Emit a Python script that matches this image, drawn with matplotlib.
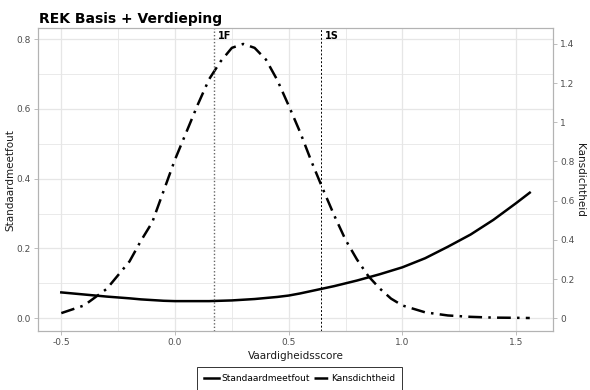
import matplotlib
matplotlib.use("Agg")
import matplotlib.pyplot as plt
import numpy as np

# vaardigheidsscore grid
theta = [-0.5, -0.4, -0.3, -0.2, -0.15, -0.1, -0.05, 0.0, 0.05, 0.1, 0.15, 0.2, 0.25,
         0.3, 0.35, 0.4, 0.45, 0.5, 0.55, 0.6, 0.65, 0.7, 0.75, 0.8, 0.85, 0.9, 0.95,
         1.0, 1.1, 1.2, 1.3, 1.4, 1.5, 1.56]
# standaardmeetfout (left axis)
sem = [0.074, 0.068, 0.062, 0.057, 0.054, 0.052, 0.050, 0.049, 0.049, 0.049, 0.049, 0.050, 0.051,
       0.053, 0.055, 0.058, 0.061, 0.065, 0.071, 0.078, 0.085, 0.092, 0.100, 0.108, 0.117, 0.126, 0.136,
       0.146, 0.172, 0.205, 0.240, 0.282, 0.330, 0.360]
# kansdichtheid (right axis)
dens = [0.026, 0.065, 0.150, 0.290, 0.395, 0.490, 0.650, 0.810, 0.950, 1.090, 1.220, 1.310, 1.380,
        1.400, 1.380, 1.320, 1.215, 1.085, 0.950, 0.800, 0.660, 0.525, 0.400, 0.300, 0.215, 0.152, 0.100,
        0.065, 0.030, 0.014, 0.007, 0.003, 0.002, 0.001]

cut_labels = ["1F", "1S"]
cut_values = [0.17, 0.64]

scale = 1.78  # factor between density and sem axis

fig = plt.figure(figsize=(5.9, 3.9), dpi=100)
ax = fig.add_axes([0.0644, 0.151, 0.873, 0.777])

ax.set_xlim(-0.6025, 1.6625)
ax.set_ylim(-0.037, 0.832)

grid_col = "#e6e6e6"
for v in [-0.5, 0, 0.5, 1.0, 1.5]:
    ax.axvline(v, color=grid_col, lw=0.9, zorder=0)
for v in [-0.25, 0.25, 0.75, 1.25]:
    ax.axvline(v, color=grid_col, lw=0.6, zorder=0)
for v in [0, 0.2, 0.4, 0.6, 0.8]:
    ax.axhline(v, color=grid_col, lw=0.9, zorder=0)
for v in [0.1, 0.3, 0.5, 0.7]:
    ax.axhline(v, color=grid_col, lw=0.6, zorder=0)

l1, = ax.plot(theta, sem, color="black", lw=1.8, label="Standaardmeetfout")
l2, = ax.plot(theta, np.array(dens) / scale, color="black", lw=1.8,
              linestyle=(0, (5.5, 2.5, 1, 2.5)), label="Kansdichtheid")

ax.axvline(cut_values[0], color="#666666", lw=1.0, linestyle=(0, (1, 1.5)))
ax.axvline(cut_values[1], color="black", lw=0.7, linestyle=(0, (2, 2)))
for lab, v in zip(cut_labels, cut_values):
    ax.text(v + 0.02, 0.825, lab, fontsize=7, fontweight="bold", va="top", ha="left")

ax.set_xticks([-0.5, 0, 0.5, 1.0, 1.5])
ax.set_xticklabels(["-0.5", "0.0", "0.5", "1.0", "1.5"])
ax.set_yticks([0, 0.2, 0.4, 0.6, 0.8])
ax.set_yticklabels(["0.0", "0.2", "0.4", "0.6", "0.8"])

ax2 = ax.twinx()
ax2.set_ylim(-0.037 * scale, 0.832 * scale)
ax2.set_yticks([0, 0.2, 0.4, 0.6, 0.8, 1.0, 1.2, 1.4])
ax2.set_yticklabels(["0", "0.2", "0.4", "0.6", "0.8", "1", "1.2", "1.4"])

for a in (ax, ax2):
    for s in a.spines.values():
        s.set_color("#b3b3b3")
        s.set_linewidth(0.8)
    a.tick_params(colors="#b3b3b3", labelcolor="#4d4d4d", labelsize=6.5,
                  length=3, width=0.6, pad=2)

ax.set_xlabel("Vaardigheidsscore", fontsize=7.5, color="#1a1a1a", labelpad=3)
ax.set_ylabel("Standaardmeetfout", fontsize=7.5, color="#1a1a1a", va="center")
ax.yaxis.set_label_coords(-0.053, 0.5)
ax2.set_ylabel("Kansdichtheid", fontsize=7.5, color="#1a1a1a", rotation=270, va="center")
ax2.yaxis.set_label_coords(1.052, 0.5)

fig.text(0.066, 0.952, "REK Basis + Verdieping", fontsize=10, fontweight="bold", va="center")

leg = fig.legend(handles=[l1, l2], loc="center", bbox_to_anchor=(0.508, 0.03),
                 ncol=2, fontsize=6.5, frameon=True, fancybox=False,
                 handlelength=1.6, columnspacing=0.4, handletextpad=0.3,
                 borderpad=0.8)
leg.get_frame().set_edgecolor("black")
leg.get_frame().set_linewidth(0.7)

plt.savefig("out.png", dpi=100)
